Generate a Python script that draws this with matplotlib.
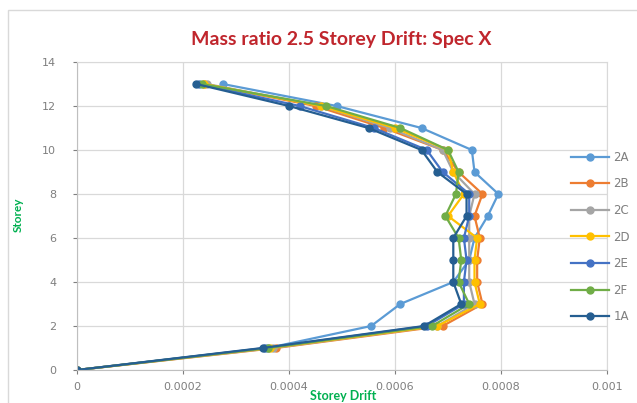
import matplotlib
matplotlib.use("Agg")
import matplotlib.pyplot as plt
from matplotlib.patches import Rectangle

# storey levels and drift values
storeys = list(range(0, 14))

drift_2A = [0, 0.00036, 0.000555, 0.00061, 0.00071, 0.00074, 0.00075, 0.000775, 0.000795, 0.00075, 0.000745, 0.00065, 0.00049, 0.000275]
drift_2B = [0, 0.000375, 0.00069, 0.000765, 0.000755, 0.000755, 0.00076, 0.00075, 0.000765, 0.00072, 0.00069, 0.00058, 0.00045, 0.00024]
drift_2C = [0, 0.00037, 0.00068, 0.00075, 0.00074, 0.00074, 0.00074, 0.00074, 0.00075, 0.00071, 0.00069, 0.00059, 0.00046, 0.000245]
drift_2D = [0, 0.000365, 0.00068, 0.00076, 0.00075, 0.00075, 0.000755, 0.0007, 0.00073, 0.00071, 0.0007, 0.0006, 0.00046, 0.00024]
drift_2E = [0, 0.000355, 0.00066, 0.00073, 0.00073, 0.000735, 0.00073, 0.00074, 0.00074, 0.00069, 0.00066, 0.00056, 0.00042, 0.00023]
drift_2F = [0, 0.00036, 0.00067, 0.00074, 0.00072, 0.000725, 0.00072, 0.000695, 0.000715, 0.00072, 0.0007, 0.00061, 0.00047, 0.000235]
drift_1A = [0, 0.00035, 0.000655, 0.000725, 0.00071, 0.00071, 0.00071, 0.000735, 0.000735, 0.00068, 0.00065, 0.00055, 0.0004, 0.000225]

labels = ["2A", "2B", "2C", "2D", "2E", "2F", "1A"]
colors = ["#5B9BD5", "#ED7D31", "#A5A5A5", "#FFC000", "#4472C4", "#70AD47", "#255E91"]
series = [drift_2A, drift_2B, drift_2C, drift_2D, drift_2E, drift_2F, drift_1A]

x_ticks = [0, 0.0002, 0.0004, 0.0006, 0.0008, 0.001]
x_tick_labels = ["0", "0.0002", "0.0004", "0.0006", "0.0008", "0.001"]
y_ticks = [0, 2, 4, 6, 8, 10, 12, 14]

fig = plt.figure(figsize=(6.37, 4.03), dpi=100)
ax = fig.add_axes([77 / 637, 1 - 370 / 403, 530 / 637, 308 / 403])

# chart area border like the Excel frame
fig.patches.append(Rectangle((8 / 637, -0.1), 1.2, 1 - 10 / 403 + 0.1, transform=fig.transFigure,
                             fill=False, edgecolor="#D9D9D9", lw=1))

for vals, lab, col in zip(series, labels, colors):
    ax.plot(vals, storeys, color=col, lw=1.6, marker="o", ms=5, label=lab)

ax.set_xlim(0, 0.001)
ax.set_ylim(0, 14)
ax.set_xticks(x_ticks)
ax.set_xticklabels(x_tick_labels)
ax.set_yticks(y_ticks)
ax.tick_params(axis="both", colors="#7F7F7F", labelsize=8, length=3)
ax.tick_params(axis="y", pad=12)
ax.tick_params(axis="x", pad=6)
ax.grid(True, color="#D9D9D9", lw=0.9)
ax.set_axisbelow(True)
for sp in ax.spines.values():
    sp.set_color("#D9D9D9")
ax.spines["left"].set_color("#BFBFBF")
ax.spines["bottom"].set_color("#BFBFBF")

fig.text(341 / 637, 1 - 39 / 403, "Mass ratio 2.5 Storey Drift: Spec X", ha="center", va="center",
         color="#C0262D", fontsize=14, fontweight="bold", family="Lato")
fig.text(18 / 637, 1 - 215 / 403, "Storey", rotation=90, ha="center", va="center",
         color="#00B050", fontsize=8.5, fontweight="bold", family="Lato")
fig.text(343 / 637, 1 - 396 / 403, "Storey Drift", ha="center", va="center",
         color="#00B050", fontsize=9, fontweight="bold", family="Lato")

leg = ax.legend(loc="upper left", bbox_to_anchor=(565 / 637, 1 - 145 / 403),
                bbox_transform=fig.transFigure, frameon=False, fontsize=8.5,
                handlelength=3.2, handletextpad=0.4, labelspacing=1.15, borderpad=0)
for t in leg.get_texts():
    t.set_color("#7F7F7F")

fig.savefig("out.png", dpi=100)
